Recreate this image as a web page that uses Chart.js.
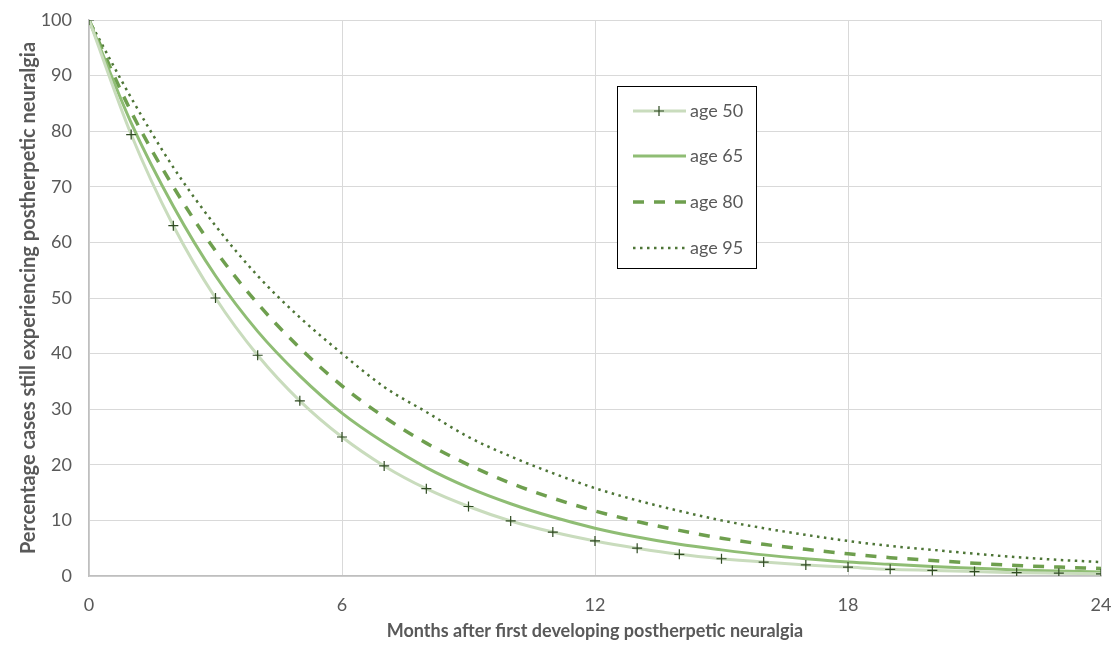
<!DOCTYPE html>
<html>
<head>
<meta charset="utf-8">
<script src="https://cdn.jsdelivr.net/npm/chart.js@4"></script>
<style>
  html, body { margin: 0; padding: 0; background: #fff; }
  #wrap { width: 1111px; height: 646px; }
</style>
</head>
<body>
<div id="wrap"><canvas id="pnChart" width="1111" height="646"></canvas></div>
<script>
const months = [0,1,2,3,4,5,6,7,8,9,10,11,12,13,14,15,16,17,18,19,20,21,22,23,24];
const age50 = [100,79.4,63,50,39.7,31.5,25,19.8,15.7,12.5,9.9,7.9,6.3,5,3.9,3.1,2.5,2,1.6,1.2,1,0.8,0.6,0.5,0.4];
const age65 = [100,81.5,66.5,54,44,36,29.3,24,19.5,15.9,13,10.6,8.6,7,5.7,4.7,3.8,3.1,2.5,2.1,1.7,1.4,1.1,0.9,0.7];
const age80 = [100,83.5,70,58.5,49,41,34.2,28.6,23.9,20,16.7,14,11.7,9.8,8.2,6.8,5.7,4.8,4,3.3,2.8,2.3,1.9,1.6,1.35];
const age95 = [100,86,73.5,63,54,46.5,40,34,29.5,25,21.5,18.5,15.8,13.6,11.7,10,8.6,7.4,6.3,5.4,4.7,4,3.4,2.9,2.5];
const seriesLabels = ["age 50", "age 65", "age 80", "age 95"];
const xTicks = [0, 6, 12, 18, 24];

const FONT = "Lato, 'Open Sans', sans-serif";

function pts(arr) {
    return months.map((m, i) => ({ x: m, y: arr[i] }));
}

// legend drawn as a boxed panel inside the plot, like the original
const boxLegend = {
    id: "boxLegend",
    afterDraw(chart) {
        const ctx = chart.ctx;
        const left = 617, top = 86, w = 139, h = 182;
        ctx.save();
        ctx.fillStyle = "#fff";
        ctx.fillRect(left, top, w, h);
        ctx.strokeStyle = "#000";
        ctx.lineWidth = 1;
        ctx.strokeRect(left + 0.5, top + 0.5, w, h);
        const rows = [111, 156, 202, 248];
        chart.data.datasets.forEach((ds, i) => {
            const y = rows[i];
            ctx.strokeStyle = ds.borderColor;
            ctx.lineWidth = ds.borderWidth;
            ctx.setLineDash(ds.borderDash || []);
            ctx.beginPath();
            ctx.moveTo(633, y); ctx.lineTo(686, y);
            ctx.stroke();
            ctx.setLineDash([]);
            if (ds.pointRadius > 0) {
                ctx.strokeStyle = ds.pointBorderColor;
                ctx.lineWidth = 1.2;
                ctx.beginPath();
                ctx.moveTo(659, y - 5); ctx.lineTo(659, y + 5);
                ctx.moveTo(654, y); ctx.lineTo(664, y);
                ctx.stroke();
            }
            ctx.fillStyle = "#595959";
            ctx.font = "18px " + FONT;
            ctx.textBaseline = "middle";
            ctx.fillText(ds.label, 690, y);
        });
        ctx.restore();
    }
};

function renderChart() {
    const ctx = document.getElementById("pnChart").getContext("2d");
    new Chart(ctx, {
        type: "line",
        data: {
            datasets: [
                {
                    label: seriesLabels[0], data: pts(age50),
                    borderColor: "#c9dcbd", borderWidth: 3,
                    pointStyle: "cross", pointRadius: 5, pointBorderWidth: 1.2,
                    pointBorderColor: "#2f4a22", pointBackgroundColor: "#2f4a22",
                    cubicInterpolationMode: "monotone"
                },
                {
                    label: seriesLabels[1], data: pts(age65),
                    borderColor: "#8fbd74", borderWidth: 3, pointRadius: 0,
                    cubicInterpolationMode: "monotone"
                },
                {
                    label: seriesLabels[2], data: pts(age80),
                    borderColor: "#6e9f4e", borderWidth: 3.5, borderDash: [11, 10], pointRadius: 0,
                    cubicInterpolationMode: "monotone"
                },
                {
                    label: seriesLabels[3], data: pts(age95),
                    borderColor: "#4d7536", borderWidth: 2.5, borderDash: [2.5, 4.5], pointRadius: 0,
                    cubicInterpolationMode: "monotone"
                }
            ]
        },
        options: {
            responsive: false,
            animation: false,
            layout: { padding: { top: 20, right: 0, left: 13, bottom: 0 } },
            plugins: { legend: { display: false }, tooltip: { enabled: false } },
            scales: {
                x: {
                    type: "linear", min: 0, max: 24,
                    afterBuildTicks: s => { s.ticks = xTicks.map(v => ({ value: v })); },
                    afterFit: s => { s.height = 70; s.paddingRight = 10; },
                    grid: { color: "#d9d9d9", drawTicks: false },
                    border: { color: "#bfbfbf", width: 1.5 },
                    ticks: { color: "#595959", font: { family: FONT, size: 18 }, padding: 18, maxRotation: 0 },
                    title: {
                        display: true, text: "Months after first developing postherpetic neuralgia",
                        color: "#595959", font: { family: FONT, size: 18, weight: "bold" }, padding: { top: 2 }
                    }
                },
                y: {
                    min: 0, max: 100,
                    ticks: { stepSize: 10, color: "#595959", font: { family: FONT, size: 18 }, padding: 17 },
                    afterFit: s => { s.width = 76; s.paddingTop = 0; s.paddingBottom = 0; },
                    grid: { color: "#d9d9d9", drawTicks: false },
                    border: { color: "#bfbfbf", width: 1.5 },
                    title: {
                        display: true, text: "Percentage cases still experiencing postherpetic neuralgia",
                        color: "#595959", font: { family: FONT, size: 20, weight: "bold" }, padding: { bottom: 0 }
                    }
                }
            }
        },
        plugins: [boxLegend]
    });
}

document.addEventListener("DOMContentLoaded", renderChart);
</script>
</body>
</html>
